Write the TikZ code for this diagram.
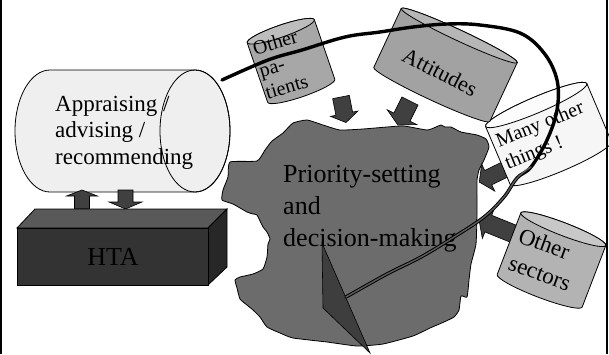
\documentclass[tikz,border=0pt]{standalone}
\usepackage{fontspec}
\setmainfont{Liberation Serif}
\usetikzlibrary{calc}

\definecolor{apprfill}{HTML}{EFEFEF}
\definecolor{htafront}{HTML}{333333}
\definecolor{htatop}{HTML}{595959}
\definecolor{htaside}{HTML}{272727}
\definecolor{blobgray}{HTML}{6C6C6C}
\definecolor{arrowgray}{HTML}{404040}
\definecolor{pointergray}{HTML}{3E3E3E}
\definecolor{patbody}{HTML}{A7A7A7}
\definecolor{pattop}{HTML}{BDBDBD}
\definecolor{attbody}{HTML}{A2A2A2}
\definecolor{atttop}{HTML}{B6B6B6}
\definecolor{manybody}{HTML}{F6F6F6}
\definecolor{manytop}{HTML}{FCFCFC}
\definecolor{secbody}{HTML}{B3B3B3}
\definecolor{sectop}{HTML}{C8C8C8}
\definecolor{ribbon}{HTML}{5C5C5C}

\newcommand\setfs[2]{\fontsize{#1}{#2}\selectfont}

% upright cylinder: name, centre x, centre y (downwards), angle, rx, ry, height, body colour, lid colour
\newcommand\uprightcyl[9]{%
  \begin{scope}[shift={(#2,-#3)},rotate=#4]
    \filldraw[fill=#8, cylline] (-#5,{#7/2}) -- (-#5,{-#7/2})
      arc[start angle=180,end angle=360,x radius=#5,y radius=#6]
      -- (#5,{#7/2})
      arc[start angle=0,end angle=180,x radius=#5,y radius=#6] -- cycle;
    \filldraw[fill=#9, cylline] (0,{#7/2}) ellipse[x radius=#5,y radius=#6];
    \coordinate (#1) at (0,0);
  \end{scope}}

% block arrow: start x, start y (downwards), angle, length, shaft half width, head half width, head length
\newcommand\blockarrow[7]{%
  \begin{scope}[shift={(#1,-#2)},rotate=#3]
    \filldraw[blockarr] (0,-#5) -- ({#4-#7},-#5) -- ({#4-#7},-#6) -- (#4,0)
      -- ({#4-#7},#6) -- ({#4-#7},#5) -- (0,#5) -- cycle;
  \end{scope}}

\begin{document}
\begin{tikzpicture}[x=1pt,y=1pt,
  cylline/.style={draw=black,line width=0.8},
  blockarr/.style={fill=arrowgray,draw=black,line width=0.6},
  label/.style={inner sep=0,text=black},
  loopouter/.style={draw=black,line width=3.4,line cap=round},
  loopinner/.style={draw=ribbon,line width=1.4,line cap=round}]
\useasboundingbox (0,0) rectangle (609,-354);

% appraising body: a cylinder lying on its side
\filldraw[fill=apprfill, cylline] (50,-70) -- (195,-70)
  arc[start angle=90,end angle=-90,x radius=35,y radius=61]
  -- (50,-192)
  arc[start angle=270,end angle=90,x radius=35,y radius=61] -- cycle;
\node[label,anchor=north west,align=left,font=\setfs{23}{26.5}] (appr) at (55,-96)
  {Appraising /\\advising /\\recommending};
\draw[cylline] (195,-131) ellipse[x radius=35,y radius=61];

% exchange between HTA and the appraising body
\blockarrow{82}{209}{90}{19}{7.5}{15.5}{6}
\blockarrow{125.5}{190}{-90}{19}{7.5}{16.5}{7}

% HTA box
\filldraw[fill=htatop, cylline] (17,-228) -- (35,-209) -- (227,-209) -- (208,-228) -- cycle;
\filldraw[fill=htaside, cylline] (208,-228) -- (227,-209) -- (227,-267) -- (208,-285) -- cycle;
\filldraw[fill=htafront, cylline] (17,-228) rectangle (208,-285);
\node[label,font=\setfs{26}{31}] (hta) at (113,-256.5) {HTA};

% priority-setting territory
\filldraw[fill=blobgray, draw=black, line width=0.8]
  plot[smooth cycle, tension=0.3] coordinates {
  (230,-162) (257,-161) (265,-150) (272,-141) (283,-133) (293,-123) (307,-120)
  (323,-125) (340,-130) (363,-129) (387,-127) (404,-126) (427,-130) (436,-127)
  (441,-125) (445,-127) (451,-127) (461,-132) (477,-135) (486,-139) (489,-147)
  (484,-160) (479,-170) (477,-180) (477,-197) (477,-214) (476,-244) (471,-264)
  (469,-280) (467,-297) (461,-296) (459,-310) (454,-317) (444,-322) (430,-328)
  (413,-336) (383,-344) (357,-346) (327,-342) (293,-338) (280,-333) (267,-327)
  (260,-317) (253,-310) (247,-305) (240,-299) (237,-288) (235,-280) (240,-277)
  (253,-274) (263,-269) (267,-257) (268,-244) (270,-239) (267,-232) (263,-227)
  (257,-215) (253,-214) (247,-212) (233,-204) (222,-200) (223,-190) (228,-177)};
\node[label,anchor=north west,align=left,font=\setfs{26}{32}] (prio) at (283,-165)
  {Priority-setting\\and\\decision-making};

% influences pressing on the territory
\blockarrow{341}{97}{-79}{26}{8.5}{14}{9}
\blockarrow{410}{101}{-116.6}{27}{9}{16.5}{9}
\blockarrow{508}{168}{-154}{32}{8}{15}{10}
\blockarrow{514}{234}{158}{37.7}{9}{16}{10}

% sources of influence
\uprightcyl{patients}{291}{61}{19}{35.5}{6}{63}{patbody}{pattop}
\node[label,align=left,rotate=16,font=\setfs{20}{23}] (patientstext) at (281.4,-64.3)
  {Other\\pa-\\tients};
\uprightcyl{many}{548.5}{134}{23}{55}{8}{63}{manybody}{manytop}
\node[label,align=left,rotate=22,font=\setfs{20}{24}] (manytext) at (544.8,-136.5)
  {Many other\\things !};
\uprightcyl{attitudes}{445.5}{65}{-25}{64}{5.5}{65}{attbody}{atttop}
\node[label,rotate=-27,font=\setfs{22}{26}] (attitudestext) at (440,-72) {Attitudes};
\uprightcyl{sectors}{551.5}{260}{-21}{45.5}{6.5}{66}{secbody}{sectop}
\node[label,align=left,rotate=-20,font=\setfs{23}{29}] (sectorstext) at (544.8,-259.2)
  {Other\\sectors};

% pointer shard
\filldraw[fill=pointergray, draw=black, line width=0.6]
  (322,-243) -- (323,-308) -- (370,-353) -- cycle;

% loop from the appraising body round to the pointer
\coordinate (loopstart) at (222,-80);
\coordinate (loopend) at (346,-297);
\draw[loopouter] plot[smooth, tension=0.6] coordinates {
    (loopstart) (268,-60) (302,-50) (345,-37) (380,-32) (413,-27) (447,-24)
    (480,-25) (520,-33) (544,-53) (557,-80) (557,-110) (547,-140) (531,-167)
    (517,-178) (504,-197) (484,-217) (454,-237) (421,-257) (387,-274) (loopend)};
% lighter core on the descending stretch
\draw[loopinner] plot[smooth, tension=0.6] coordinates {
    (531,-167) (517,-178) (504,-197) (484,-217) (454,-237) (421,-257)
    (387,-274) (loopend)};

% frame sides
\draw[line width=2] (1,0) -- (1,-354);
\draw[line width=2] (607,0) -- (607,-354);
\end{tikzpicture}
\end{document}
